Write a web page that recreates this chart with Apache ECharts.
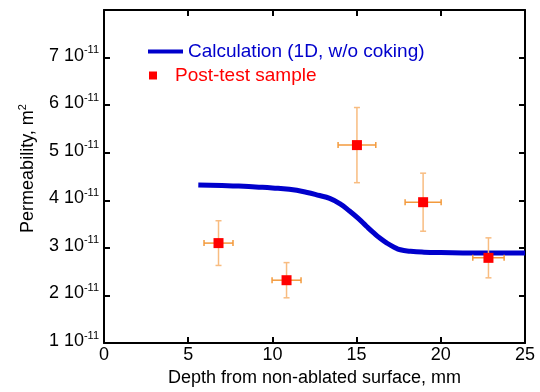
<!DOCTYPE html>
<html>
<head>
<meta charset="utf-8">
<script src="https://cdn.jsdelivr.net/npm/echarts@6/dist/echarts.min.js"></script>
<style>
  html, body { margin: 0; padding: 0; background: #fff; }
  #chart { width: 540px; height: 392px; }
</style>
</head>
<body>
<div id="chart"></div>
<script>
'use strict';

// values of permeability are in units of 1e-11 m^2
var calcDepth = [5.6, 7, 8, 9, 10, 11, 12, 12.8, 13.4, 14, 14.6, 15.1, 15.6, 16.0, 16.4, 16.8, 17.2, 17.6, 18.2, 19, 20, 22, 25];
var calcPerm  = [4.32, 4.31, 4.30, 4.28, 4.26, 4.23, 4.17, 4.10, 4.04, 3.93, 3.77, 3.62, 3.45, 3.32, 3.20, 3.10, 3.02, 2.96, 2.93, 2.91, 2.90, 2.89, 2.89];

var sampleDepth = [6.8, 10.84, 15.02, 18.95, 22.83];
var samplePerm  = [3.10, 2.32, 5.16, 3.96, 2.79];
var depthErr    = [0.86, 0.86, 1.12, 1.07, 0.93];
var permErr     = [0.47, 0.37, 0.79, 0.61, 0.42];

var xTicks = [0, 5, 10, 15, 20, 25];
var yTicks = [1, 2, 3, 4, 5, 6, 7];

var font = 'Liberation Sans, Arial, sans-serif';

var myChart = echarts.init(document.getElementById('chart'));

var calcData = calcDepth.map(function (d, i) { return [d, calcPerm[i]]; });
var sampleData = sampleDepth.map(function (d, i) { return [d, samplePerm[i]]; });
var errData = sampleDepth.map(function (d, i) { return [d, samplePerm[i], depthErr[i], permErr[i]]; });

function frameAxis(pos, isX) {
  return {
    type: 'value',
    position: pos,
    min: isX ? 0 : 1,
    max: isX ? 25 : 8,
    interval: isX ? 5 : 1,
    axisLine: { show: true, onZero: false, lineStyle: { color: '#000', width: 2 } },
    axisTick: { show: true, inside: true, length: 6, lineStyle: { color: '#000', width: 2 } },
    axisLabel: { show: false },
    splitLine: { show: false }
  };
}

var xBottom = frameAxis('bottom', true);
xBottom.name = 'Depth from non-ablated surface, mm';
xBottom.nameLocation = 'middle';
xBottom.nameGap = 24;
xBottom.nameTextStyle = { fontFamily: font, fontSize: 18, color: '#000' };
xBottom.axisLabel = {
  show: true, margin: 3, fontFamily: font, fontSize: 18, color: '#000',
  formatter: function (v) { return xTicks.indexOf(v) >= 0 ? String(v) : ''; }
};

var yLeft = frameAxis('left', false);
yLeft.name = '{a|Permeability, m}{b|2}';
yLeft.nameLocation = 'middle';
yLeft.nameGap = 67;
yLeft.nameTextStyle = {
  fontFamily: font, fontSize: 18, color: '#000', padding: [0, 0, 0, 16],
  rich: {
    a: { fontFamily: font, fontSize: 18, color: '#000', lineHeight: 20, verticalAlign: 'bottom' },
    b: { fontFamily: font, fontSize: 11, color: '#000', lineHeight: 20, verticalAlign: 'top' }
  }
};
yLeft.axisLabel = {
  show: true, margin: 5, color: '#000', padding: [0, 0, 6, 0],
  formatter: function (v) {
    return yTicks.indexOf(v) >= 0 ? '{a|' + v + ' 10}{b|-11}' : '';
  },
  rich: {
    a: { fontFamily: font, fontSize: 18, color: '#000', lineHeight: 20, verticalAlign: 'bottom' },
    b: { fontFamily: font, fontSize: 11, color: '#000', lineHeight: 20, verticalAlign: 'top' }
  }
};

var option = {
  animation: false,
  backgroundColor: '#fff',
  grid: { left: 104, right: 15, top: 10, bottom: 49 },
  legend: [
    {
      left: 143, top: 37,
      itemWidth: 35, itemHeight: 4, icon: 'rect',
      data: [{ name: 'Calculation (1D, w/o coking)', itemStyle: { color: '#0000CC', opacity: 1 } }],
      textStyle: { fontFamily: font, fontSize: 19, color: '#0000CC' }
    },
    {
      left: 144, top: 61,
      itemWidth: 34, itemHeight: 8, icon: 'path://M0,0H1V1H0Z',
      data: [{ name: 'Post-test sample', itemStyle: { color: '#FF0000', opacity: 1 } }],
      textStyle: { fontFamily: font, fontSize: 19, color: '#FF0000' }
    }
  ],
  xAxis: [xBottom, frameAxis('top', true)],
  yAxis: [yLeft, frameAxis('right', false)],
  series: [
    {
      name: 'Calculation (1D, w/o coking)',
      type: 'line',
      data: calcData,
      smooth: true,
      symbol: 'none',
      z: 2,
      lineStyle: { color: '#0000CC', width: 5 }
    },
    {
      name: 'errbars',
      type: 'custom',
      data: errData,
      encode: { x: 0, y: 1 },
      z: 3,
      renderItem: function (params, api) {
        var x = api.value(0), y = api.value(1), dx = api.value(2), dy = api.value(3);
        var l = api.coord([x - dx, y]), r = api.coord([x + dx, y]);
        var t = api.coord([x, y + dy]), b = api.coord([x, y - dy]);
        var c = 3;
        var hs = { stroke: '#F39A3C', lineWidth: 1.5 };
        var vs = { stroke: '#F8BC80', lineWidth: 1.5 };
        return {
          type: 'group',
          children: [
            { type: 'line', shape: { x1: t[0], y1: t[1], x2: b[0], y2: b[1] }, style: vs },
            { type: 'line', shape: { x1: t[0] - c, y1: t[1], x2: t[0] + c, y2: t[1] }, style: vs },
            { type: 'line', shape: { x1: b[0] - c, y1: b[1], x2: b[0] + c, y2: b[1] }, style: vs },
            { type: 'line', shape: { x1: l[0], y1: l[1], x2: r[0], y2: r[1] }, style: hs },
            { type: 'line', shape: { x1: l[0], y1: l[1] - c, x2: l[0], y2: l[1] + c }, style: hs },
            { type: 'line', shape: { x1: r[0], y1: r[1] - c, x2: r[0], y2: r[1] + c }, style: hs }
          ]
        };
      }
    },
    {
      name: 'Post-test sample',
      type: 'scatter',
      data: sampleData,
      symbol: 'rect',
      symbolSize: 10,
      z: 4,
      itemStyle: { color: '#FF0000', opacity: 1 }
    }
  ]
};

myChart.setOption(option);

window.addEventListener('resize', function () {
  myChart.resize();
});
</script>
</body>
</html>
